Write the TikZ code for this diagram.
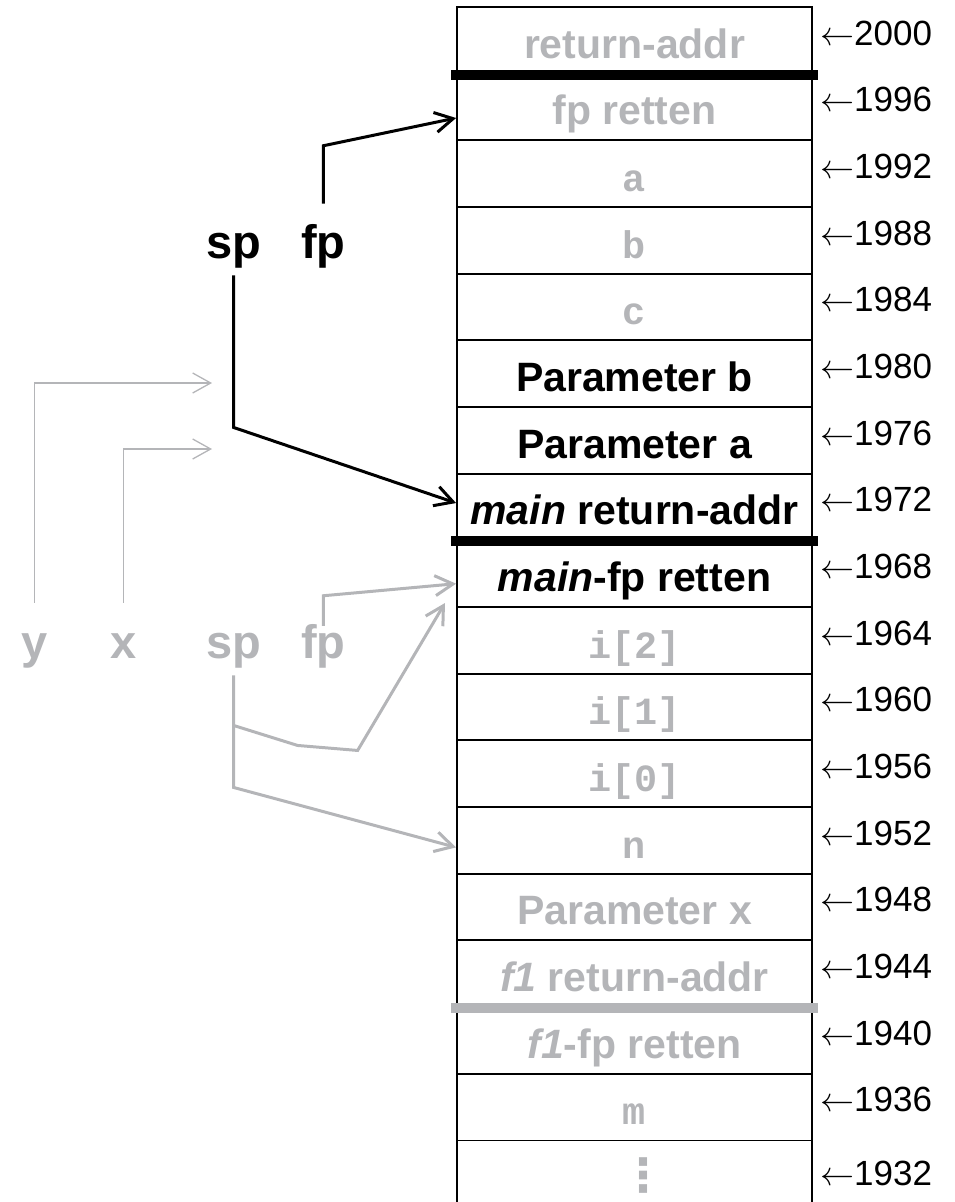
\documentclass[tikz,border=0pt]{standalone}
\usepackage{graphicx}
\usepackage{fontspec}
\setmainfont{Liberation Sans}
\setmonofont{Liberation Mono}
\newfontfamily\dejavu{DejaVu Sans}
\usetikzlibrary{arrows.meta}
\tikzset{>={Straight Barb[length=18pt,width=20pt]}}
\definecolor{stkgray}{RGB}{180,181,184}
\newcommand\gsf{\color{stkgray}\fontsize{41}{48}\selectfont\bfseries}
\newcommand\bsf{\fontsize{41}{48}\selectfont\bfseries}
\newcommand\gtt{\color{stkgray}\fontsize{38.5}{45}\selectfont\ttfamily\bfseries}
\newcommand\pointsto{\scalebox{3.4}{\fontsize{10}{12}\selectfont$\leftarrow$}}

\begin{document}
\begin{tikzpicture}[x=1pt, y=-1pt,
    cell/.style={draw, line width=1.8pt, minimum width=355pt, minimum height=66.67pt,
      inner sep=0pt, text height=40pt, text depth=4.6pt},
    addr/.style={anchor=base west, inner sep=0pt, font=\fontsize{35}{40}\selectfont},
    ptr/.style={anchor=base west, inner sep=0pt, font=\fontsize{47}{54}\selectfont\bfseries},
    bline/.style={line width=3pt},
    gline/.style={line width=3pt, stkgray},
    gthin/.style={line width=1.3pt, stkgray},
    sep/.style={line width=10pt}]
    \useasboundingbox (0,0) rectangle (954,1202);
    % stack cells with their addresses
    \foreach \lbl/\fnt [count=\k from 0] in {return-addr/\gsf, fp retten/\gsf, a/\gtt, b/\gtt, c/\gtt,
        Parameter b/\bsf, Parameter a/\bsf, \textit{main} return-addr/\bsf, \textit{main}-fp retten/\bsf,
        i[2]/\gtt, i[1]/\gtt, i[0]/\gtt, n/\gtt, Parameter x/\gsf, \textit{f1} return-addr/\gsf,
        \textit{f1}-fp retten/\gsf, m/\gtt, {\dejavu\fontsize{46}{50}\selectfont\kern17pt ⋮}/\gtt}{
        \pgfmathtruncatemacro\adr{2000-4*\k}
        \pgfmathsetmacro\ay{45+66.67*\k+7*(\k==17)}
        \node[cell, font=\fnt] (m\adr) at (634.5, 40.33+66.67*\k) {\lbl};
        \node[addr] (l\adr) at (820, \ay) {\pointsto\adr};
    }
    % frame borders
    \draw[sep] ([xshift=-5pt]m2000.south west) -- ([xshift=5pt]m2000.south east);
    \draw[sep] ([xshift=-5pt]m1972.south west) -- ([xshift=5pt]m1972.south east);
    \draw[sep, stkgray] ([xshift=-5pt]m1944.south west) -- ([xshift=5pt]m1944.south east);
    % current registers
    \node[ptr] (sp) at (206, 258) {sp};
    \node[ptr] (fp) at (301, 258) {fp};
    \draw[bline, ->] ([yshift=20pt]fp.north) -- ++(0, -58) -- ([yshift=-11pt]m1996.west);
    \draw[bline, ->] ([yshift=-7.5pt]sp.south) -- ++(0, 152) -- ([yshift=4pt]m1972.west);
    % old registers and parameters
    \node[ptr, text=stkgray] (y) at (21, 658) {y};
    \node[ptr, text=stkgray] (x) at (110, 658) {x};
    \node[ptr, text=stkgray] (sp2) at (206, 658) {sp};
    \node[ptr, text=stkgray] (fp2) at (301, 658) {fp};
    \coordinate (yto) at (212, 383);
    \coordinate (xto) at (212, 449);
    \coordinate (fpold) at (445, 603);
    \draw[gthin, ->] ([yshift=30pt]y.north) |- (yto);
    \draw[gthin, ->] ([yshift=30pt]x.north) |- (xto);
    \draw[gline, ->] ([yshift=-2pt]fp2.north) -- ++(0, -30) -- ([yshift=-10pt]m1968.west);
    \draw[gline, ->] ([yshift=-7.5pt]sp2.south) -- ++(0, 112) -- ([yshift=-7pt]m1952.west);
    \draw[gline, ->] ([yshift=-57.5pt]sp2.south) -- ++(64, 20) -- ++(60, 5) -- (fpold);
\end{tikzpicture}
\end{document}
